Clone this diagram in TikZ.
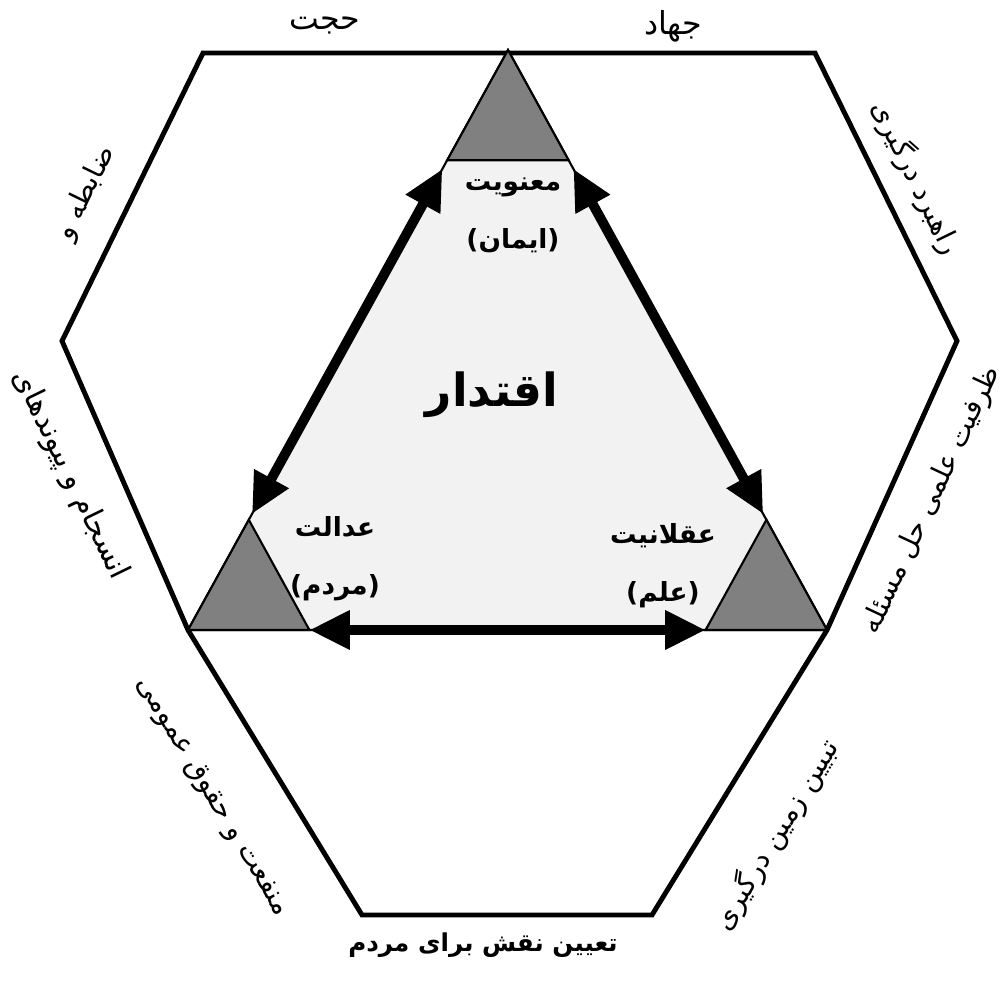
\documentclass[tikz,border=0pt]{standalone}
\usepackage{fontspec}
\newfontfamily\farsi[Script=Arabic]{DejaVu Sans}
\TeXXeTstate=1
\usetikzlibrary{calc, arrows.meta}

\begin{document}
\begin{tikzpicture}[x=0.02cm, y=-0.02cm, >={Triangle[length=23pt, width=21pt]},
  hexline/.style={line width=2.8pt, line join=miter},
  corner/.style={draw, line width=1.2pt, fill=black!50},
  link/.style={<->, line width=5.6pt},
  side/.style={font=\farsi\fontsize{16}{18}\selectfont},
  pole/.style={font=\farsi\bfseries\fontsize{15}{33}\selectfont, align=center}]
  \useasboundingbox (0,0) rectangle (1005,986);
  % corners of the triangle and of the outer frame
  \coordinate (top) at (508,50);
  \coordinate (bl) at (188,630);
  \coordinate (br) at (827,630);
  \coordinate (h1) at (203,53);
  \coordinate (h2) at (815,53);
  \coordinate (h3) at (957,341);
  \coordinate (h4) at (62,341);
  \coordinate (b1) at (362,915);
  \coordinate (b2) at (652,915);
  \draw[hexline] (508,53) -- (h1) -- (h4) -- (bl);
  \draw[hexline] (508,53) -- (h2) -- (h3) -- (br);
  \draw[hexline] (bl) -- (b1) -- (b2) -- (br);
  \draw[line width=1.2pt, fill=black!5] (top) -- (bl) -- (br) -- cycle;
  \draw[corner] (top) -- ($(top)!0.19!(bl)$) -- ($(top)!0.19!(br)$) -- cycle;
  \draw[corner] (bl) -- ($(bl)!0.19!(top)$) -- ($(bl)!0.19!(br)$) -- cycle;
  \draw[corner] (br) -- ($(br)!0.19!(top)$) -- ($(br)!0.19!(bl)$) -- cycle;
  % arrows between the three poles
  \coordinate (l1) at ($(top)!0.205!(bl)$);
  \coordinate (l2) at ($(bl)!0.2!(top)$);
  \coordinate (r1) at ($(top)!0.205!(br)$);
  \coordinate (r2) at ($(br)!0.2!(top)$);
  \coordinate (m1) at ($(bl)!0.19!(br)$);
  \coordinate (m2) at ($(br)!0.19!(bl)$);
  \draw[link] (l1) -- (l2);
  \draw[link] (r1) -- (r2);
  \draw[link] (m1) -- (m2);
  \node[pole] (manaviat) at (513,215) {\beginR معنویت\endR\\\beginR (ایمان)\endR};
  \node[pole] (edalat) at (335,559) {\beginR عدالت\endR\\\beginR (مردم)\endR};
  \node[pole] (aghlaniat) at (663,566) {\beginR عقلانیت\endR\\\beginR (علم)\endR};
  \node[pole, font=\farsi\bfseries\fontsize{26}{30}\selectfont] (eghtedar) at (492,395) {\beginR اقتدار\endR};
  % labels round the frame
  \node[side, font=\farsi\fontsize{18}{20}\selectfont] (hojjat) at (325,26) {\beginR حجت\endR};
  \node[side, font=\farsi\fontsize{18}{20}\selectfont] (jehad) at (673,26) {\beginR جهاد\endR};
  \node[side, rotate=64] (zabeteh) at (86,193) {\beginR ضابطه و\endR};
  \node[side, rotate=-64, font=\farsi\fontsize{17}{20}\selectfont] (ensejam) at (70,475) {\beginR انسجام و پیوندهای\endR};
  \node[side, rotate=-64] (rahbord) at (916,178) {\beginR راهبرد درگیری\endR};
  \node[side, rotate=65] (zarfiat) at (932,500) {\beginR ظرفیت علمی حل مسئله\endR};
  \node[side, rotate=-59] (manfaat) at (212,797) {\beginR منفعت و حقوق عمومی\endR};
  \node[side, rotate=59] (tabyin) at (776,835) {\beginR تبیین زمین درگیری\endR};
  \node[side, font=\farsi\bfseries\fontsize{14}{18}\selectfont] (tayin) at (483,945) {\beginR تعیین نقش برای مردم\endR};
\end{tikzpicture}
\end{document}
